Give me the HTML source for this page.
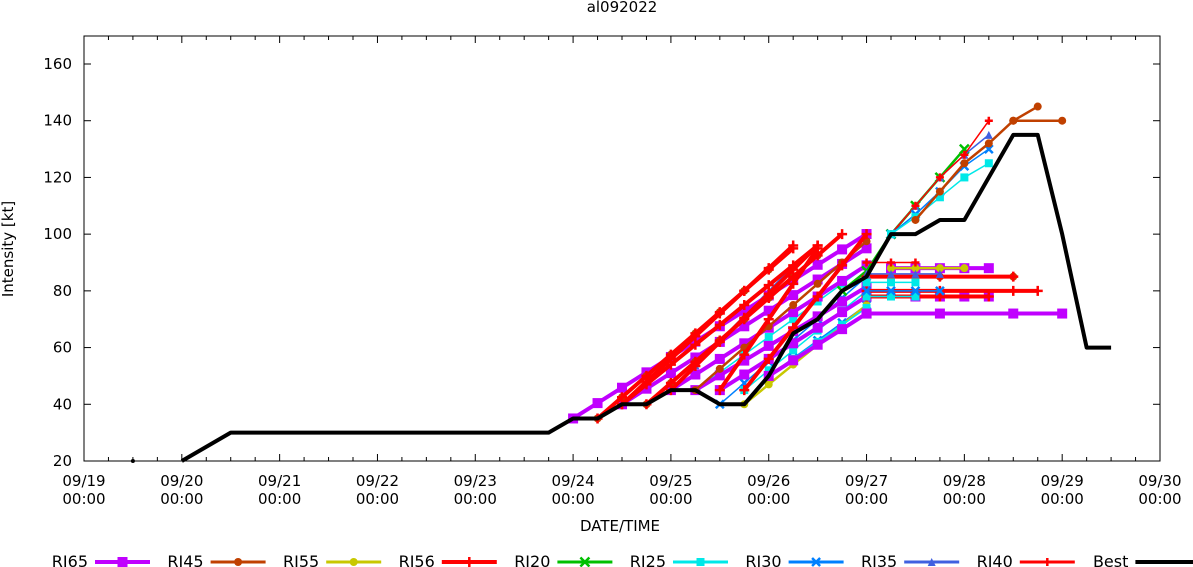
<!DOCTYPE html>
<html><head><meta charset="utf-8"><style>
html,body{margin:0;padding:0;background:#fff;}
svg{display:block;font-family:"DejaVu Sans","Liberation Sans",sans-serif;}
</style></head><body>
<svg id="s" width="1193" height="567" xmlns="http://www.w3.org/2000/svg">
<rect width="1193" height="567" fill="#fff"/>
<text x="622" y="12" font-size="15" text-anchor="middle">al092022</text>
<text x="620" y="531" font-size="15" text-anchor="middle">DATE/TIME</text>
<text transform="translate(13,249) rotate(-90)" font-size="15" text-anchor="middle">Intensity [kt]</text>
<g id="ax"></g>
<g id="data"></g>
<g id="leg"></g>
</svg>
<script>
const NS="http://www.w3.org/2000/svg";
const X0=84,X1=1160,Y0=461,DAY=(X1-X0)/11;
const X=d=>X0+d*DAY, Y=v=>Y0-(v-20)*(461-64)/140;
function el(p,t,a,txt){const e=document.createElementNS(NS,t);for(const k in a)e.setAttribute(k,a[k]);if(txt!==undefined)e.textContent=txt;p.appendChild(e);return e;}
const ax=document.getElementById('ax'),dg=document.getElementById('data'),lg=document.getElementById('leg');
el(ax,'rect',{x:X0,y:36,width:X1-X0,height:Y0-36,fill:'none',stroke:'#000','stroke-width':1});
for(let v=20;v<=160;v+=20){const y=Y(v);el(ax,'line',{x1:X0,y1:y,x2:X0+7,y2:y,stroke:'#000'});el(ax,'line',{x1:X1,y1:y,x2:X1-7,y2:y,stroke:'#000'});
el(ax,'text',{x:X0-12,y:y+5,'font-size':15,'text-anchor':'end'},String(v));}
for(let q=0;q<=44;q++){const x=X(q/4),L=q%4==0?7:4;el(ax,'line',{x1:x,y1:Y0,x2:x,y2:Y0-L,stroke:'#000'});el(ax,'line',{x1:x,y1:36,x2:x,y2:36+L,stroke:'#000'});
if(q%4==0){const d=19+q/4;el(ax,'text',{x:x,y:486,'font-size':15,'text-anchor':'middle'},'09/'+d);el(ax,'text',{x:x,y:504,'font-size':15,'text-anchor':'middle'},'00:00');}}
const bt=[[1,20],[1.5,30],[4.75,30],[5,35],[5.25,35],[5.5,40],[5.75,40],[6,45],[6.25,45],[6.5,40],[6.75,40],[7,50],[7.25,65],[7.5,70],[7.75,80],[8,85],[8.25,100],[8.5,100],[8.75,105],[9,105],[9.25,120],[9.5,135],[9.75,135],[10,100],[10.25,60],[10.5,60]];
const S=[
 {n:'RI65',c:'#c000ff',w:4,m:'sq',ms:10},
 {n:'RI45',c:'#c04000',w:2.5,m:'ci',ms:8},
 {n:'RI55',c:'#c8c800',w:2.5,m:'ci',ms:8},
 {n:'RI56',c:'#ff0000',w:4,m:'pl',ms:10},
 {n:'RI20',c:'#00c000',w:2.5,m:'x',ms:9},
 {n:'RI25',c:'#00e8e8',w:1.5,m:'sq',ms:8},
 {n:'RI30',c:'#0080ff',w:1.5,m:'x',ms:8},
 {n:'RI35',c:'#4060e0',w:1.5,m:'tri',ms:8},
 {n:'RI40',c:'#ff0000',w:1.5,m:'pl',ms:8},
];
function mark(p,s,x,y){const h=s.ms/2;
 if(s.m=='sq')el(p,'rect',{x:x-h,y:y-h,width:s.ms,height:s.ms,fill:s.c});
 else if(s.m=='ci')el(p,'circle',{cx:x,cy:y,r:h,fill:s.c});
 else if(s.m=='tri')el(p,'polygon',{points:`${x},${y-h} ${x-h},${y+h} ${x+h},${y+h}`,fill:s.c});
 else if(s.m=='pl'){el(p,'path',{d:`M${x-h} ${y}H${x+h}M${x} ${y-h}V${y+h}`,stroke:s.c,'stroke-width':2.5});}
 else el(p,'path',{d:`M${x-h} ${y-h}L${x+h} ${y+h}M${x+h} ${y-h}L${x-h} ${y+h}`,stroke:s.c,'stroke-width':2.5});}
function series(s,pts){el(dg,'polyline',{points:pts.map(p=>X(p[0])+','+Y(p[1])).join(' '),fill:'none',stroke:s.c,'stroke-width':s.w,'stroke-linejoin':'round'});pts.forEach(p=>mark(dg,s,X(p[0]),Y(p[1])));}
function rise(i,t0,v0,slope,n){const pts=[];let v=v0;for(let k=0;k<=n;k++){const t=t0+k*0.25;if(t>8.001||v>100.5)break;pts.push([t,v]);v+=slope;}series(S[i],pts);}
// thin rising lines
[[5,6.25,45,6.25,7],[6,6.5,40,7.5,6],[7,6,45,8.75,5],[5,6.75,45,7,5],[6,7,50,6.25,4],[2,6.75,40,7,5],[5,7,50,6,4]].forEach(a=>rise(...a));
// purple thick
rise(0,5,35,5.42,12);
[[5.5,40],[6,45],[6.5,45],[7,50]].forEach(([t,v])=>rise(0,t,v,5.5,12));
rise(0,6.25,45,5.2,8);
// brown
[[5.25,35],[5.75,40],[6.25,45]].forEach(([t,v])=>rise(1,t,v,7.5,7));
// red thick
[[5.25,35],[5.5,40],[5.75,40],[6,45],[6.5,45],[6.75,45],[5.5,40]].forEach(([t,v],k)=>rise(3,t,v,[7.5,8,7.5,8.5,12.5,11,7][k],10));
// late rising to high values
const late=[[4,[[7.75,80],[8,87],[8.25,100],[8.5,110],[8.75,120],[9,130]]],[7,[[8,84],[8.25,100],[8.5,110],[8.75,120],[9,128],[9.25,135]]],[8,[[8.25,100],[8.5,110],[8.75,120],[9,128],[9.25,140]]],
[6,[[8.25,100],[8.5,107],[8.75,115],[9,124],[9.25,130]]],[5,[[8.25,100],[8.5,106],[8.75,113],[9,120],[9.25,125]]],
[1,[[8.5,105],[8.75,115],[9,125],[9.25,132],[9.5,140],[9.75,145]]],[1,[[9.5,140],[10,140]]]];
late.forEach(([i,p])=>series(S[i],p));
const flat=[[0,72,8,10],[0,88,8.25,9.25],[0,78,8.5,9.25],[1,85,8,9.5],[3,85,8,9.5],[3,80,8,9.75],[3,78,8,9.25],[2,88,8.25,9],[8,90,8,8.5],[5,78,8,8.5],[5,83,8,8.5],[6,80,8,8.75],[7,86,8,8.75]];
flat.forEach(([i,v,a,b])=>{const pts=[];const st=(b-a)>1?0.75:0.25;for(let t=a;t<=b+1e-6;t+=st)pts.push([t,v]);if(pts[pts.length-1][0]<b-1e-6)pts.push([b,v]);series(S[i],pts);});
el(dg,'circle',{cx:X(0.5),cy:Y(20),r:2,fill:'#000'});
el(dg,'polyline',{points:bt.map(p=>X(p[0])+','+Y(p[1])).join(' '),fill:'none',stroke:'#000','stroke-width':4,'stroke-linejoin':'round'});
const names=['RI65','RI45','RI55','RI56','RI20','RI25','RI30','RI35','RI40','Best'];
names.forEach((n,i)=>{const tx=88+i*115.6;el(lg,'text',{x:tx,y:567,'font-size':16,'text-anchor':'end'},n);
 const lx=tx+7,rx=tx+62,y=562;
 if(i<9){const s=S[i];el(lg,'line',{x1:lx,y1:y,x2:rx,y2:y,stroke:s.c,'stroke-width':s.w>3?4:3});mark(lg,s,(lx+rx)/2,y);}
 else el(lg,'line',{x1:lx,y1:y,x2:1193,y2:y,stroke:'#000','stroke-width':4});});
</script>
</body></html>
